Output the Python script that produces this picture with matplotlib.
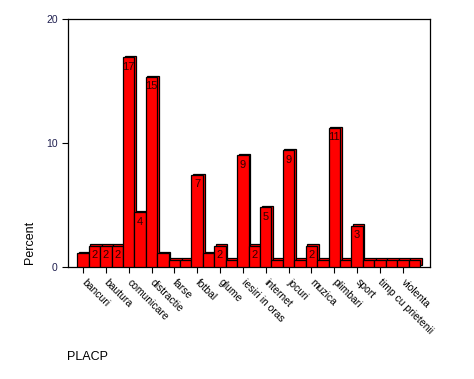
import matplotlib
matplotlib.use("Agg")
import matplotlib.pyplot as plt
import matplotlib.transforms as mtransforms

plt.rcParams['font.family'] = ['Liberation Sans', 'DejaVu Sans']

# Percent per category (30 categories, only every second one is labelled)
values = [1.1, 1.7, 1.7, 1.7, 16.9, 4.4, 15.3, 1.1, 0.6, 0.6,
          7.4, 1.1, 1.7, 0.6, 9.0, 1.7, 4.8, 0.6, 9.4, 0.6,
          1.7, 0.6, 11.2, 0.6, 3.3, 0.6, 0.6, 0.6, 0.6, 0.6]
tick_labels = ['bancuri', 'bautura', 'comunicare', 'distractie', 'farse',
               'fotbal', 'glume', 'iesiri in oras', 'internet', 'jocuri',
               'muzica', 'plimbari', 'sport', 'timp cu prietenii', 'violenta']
yticks = [0, 10, 20]

fig = plt.figure(figsize=(4.74, 3.79), dpi=100)
ax = fig.add_axes([68 / 474, 1 - 267 / 379, 362 / 474, 248 / 379])

x = list(range(len(values)))

# back face of each bar, shifted up-right for the pseudo 3D look
shift = mtransforms.offset_copy(ax.transData, fig=fig, x=1.6, y=1.6, units='dots')
ax.bar(x, values, width=1.0, color='#ff0000', edgecolor='black',
       linewidth=0.9, transform=shift, zorder=2)
ax.bar(x, values, width=1.0, color='#ff0000', edgecolor='black',
       linewidth=0.9, zorder=3)

for xi, v in zip(x, values):
    if v >= 1.5:
        ax.annotate(f'{round(v)}', (xi, v), xytext=(0, -3),
                    textcoords='offset points', ha='center', va='top',
                    fontsize=8, color='#300000', zorder=4)

ax.set_xlim(-1.31, 30.38)
ax.set_ylim(0, 20)
ax.set_yticks(yticks)
ax.set_yticklabels([str(t) for t in yticks], fontsize=7.5, color='#202050')
ax.set_xticks(x[::2])
ax.set_xticklabels(tick_labels, rotation=-45, ha='left', va='center',
                   rotation_mode='anchor', fontsize=7.5)
ax.tick_params(axis='both', direction='out', length=4, width=0.8)
ax.tick_params(axis='x', pad=6)
for s in ax.spines.values():
    s.set_linewidth(0.9)

fig.text(30 / 474, 1 - 242 / 379, 'Percent', rotation=90, ha='center',
         va='center', fontsize=9)
fig.text(67 / 474, 1 - 357 / 379, 'PLACP', ha='left', va='center', fontsize=9)

fig.savefig('out.png', dpi=100)
